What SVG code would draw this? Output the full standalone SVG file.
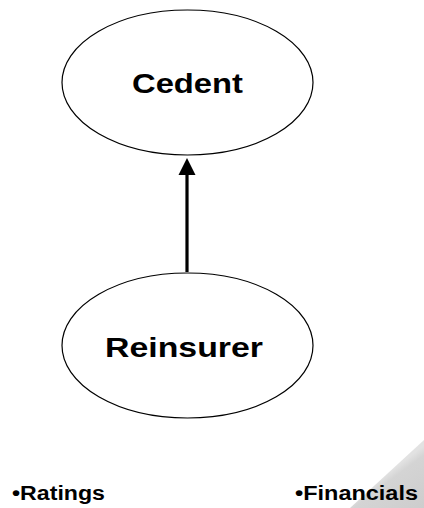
<svg xmlns="http://www.w3.org/2000/svg" width="424" height="508" viewBox="0 0 424 508">
  <style>
    .node { fill: #ffffff; stroke: #000000; stroke-width: 1.2; }
    .label { font-family: "Liberation Sans", Arial, sans-serif; font-weight: bold; fill: #000000; }
    .big { font-size: 27px; }
    .small { font-size: 20px; }
    .link { stroke: #000000; stroke-width: 3.2; fill: none; }
  </style>
  <defs>
    <linearGradient id="curl" x1="1" y1="1" x2="0.55" y2="0.45">
      <stop offset="0" stop-color="#cdcdcd"/>
      <stop offset="0.85" stop-color="#d4d4d4"/>
      <stop offset="1" stop-color="#e2e2e2"/>
    </linearGradient>
  </defs>
  <rect x="0" y="0" width="424" height="508" fill="#ffffff"/>

  <!-- folded corner in the lower right -->
  <polygon points="424,440 424,508 350,508" fill="url(#curl)"/>

  <g id="connectors">
    <line class="link" x1="187" y1="272" x2="187" y2="172"/>
    <polygon points="187,158 178.5,175 195.5,175" fill="#000000"/>
  </g>

  <g id="cedent">
    <ellipse class="node" cx="187.5" cy="82.5" rx="125.5" ry="72.5"/>
    <text class="label big" x="187.5" y="93" text-anchor="middle" textLength="111" lengthAdjust="spacingAndGlyphs">Cedent</text>
  </g>

  <g id="reinsurer">
    <ellipse class="node" cx="187.5" cy="345.5" rx="125.5" ry="72.5"/>
    <text class="label big" x="184" y="357" text-anchor="middle" textLength="158" lengthAdjust="spacingAndGlyphs">Reinsurer</text>
  </g>

  <g id="ratings">
    <text class="label small" x="12" y="500" textLength="93" lengthAdjust="spacingAndGlyphs">•Ratings</text>
  </g>

  <g id="financials">
    <text class="label small" x="295" y="500" textLength="123" lengthAdjust="spacingAndGlyphs">•Financials</text>
  </g>
</svg>
